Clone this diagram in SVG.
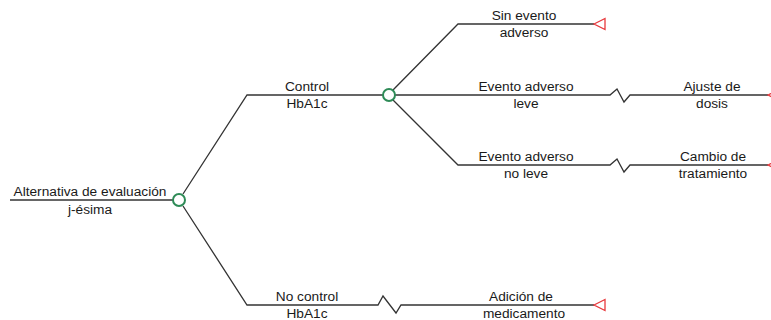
<svg xmlns="http://www.w3.org/2000/svg" width="771" height="320" viewBox="0 0 771 320">
<style>
.ln{fill:none;stroke:#333;stroke-width:1.3}
.ch{fill:#fff;stroke:#2e8b57;stroke-width:2}
.tm{fill:#fff;stroke:#e8393d;stroke-width:1.3}
text{font-family:"Liberation Sans",Arial,sans-serif;font-size:13.7px;fill:#1a1a1a;text-anchor:middle}
</style>
<rect width="771" height="320" fill="#fff"/>
<g id="connectors">
<path class="ln" d="M10,200 H173"/>
<path class="ln" d="M183,194 L247,95 H383"/>
<path class="ln" d="M183,206 L247,305 H378 L383,296 L396,313 L401,305 H594"/>
<path class="ln" d="M393,90 L458,24 H594"/>
<path class="ln" d="M395,95 H610 L617,89 L624,102 L630,95 H768"/>
<path class="ln" d="M393,100 L458,165 H610 L617,159 L624,172 L630,165 H768"/>
</g>
<g id="root"><text x="90" y="196">Alternativa de evaluación</text><text x="90" y="214">j-ésima</text></g>
<g id="chance1"><circle class="ch" cx="179" cy="200" r="6"/></g>
<g id="control"><text x="307" y="91">Control</text><text x="307" y="108">HbA1c</text></g>
<g id="chance2"><circle class="ch" cx="389" cy="95" r="6"/></g>
<g id="noControl"><text x="307" y="301">No control</text><text x="307" y="318">HbA1c</text></g>
<g id="sinEvento"><text x="524" y="20">Sin evento</text><text x="524" y="37">adverso</text></g>
<g id="t1"><path class="tm" d="M594,24 L605,18.5 V29.5 Z"/></g>
<g id="eventoLeve"><text x="526" y="91">Evento adverso</text><text x="526" y="108">leve</text></g>
<g id="ajuste"><text x="712" y="91">Ajuste de</text><text x="712" y="108">dosis</text></g>
<g id="t2"><path class="tm" d="M768,95 L779,89.5 V100.5 Z"/></g>
<g id="eventoNoLeve"><text x="526" y="161">Evento adverso</text><text x="526" y="178">no leve</text></g>
<g id="cambio"><text x="713" y="161">Cambio de</text><text x="713" y="178">tratamiento</text></g>
<g id="t3"><path class="tm" d="M768,165 L779,159.5 V170.5 Z"/></g>
<g id="adicion"><text x="521" y="301">Adición de</text><text x="524" y="318">medicamento</text></g>
<g id="t4"><path class="tm" d="M594,305 L605,299.5 V310.5 Z"/></g>
</svg>
